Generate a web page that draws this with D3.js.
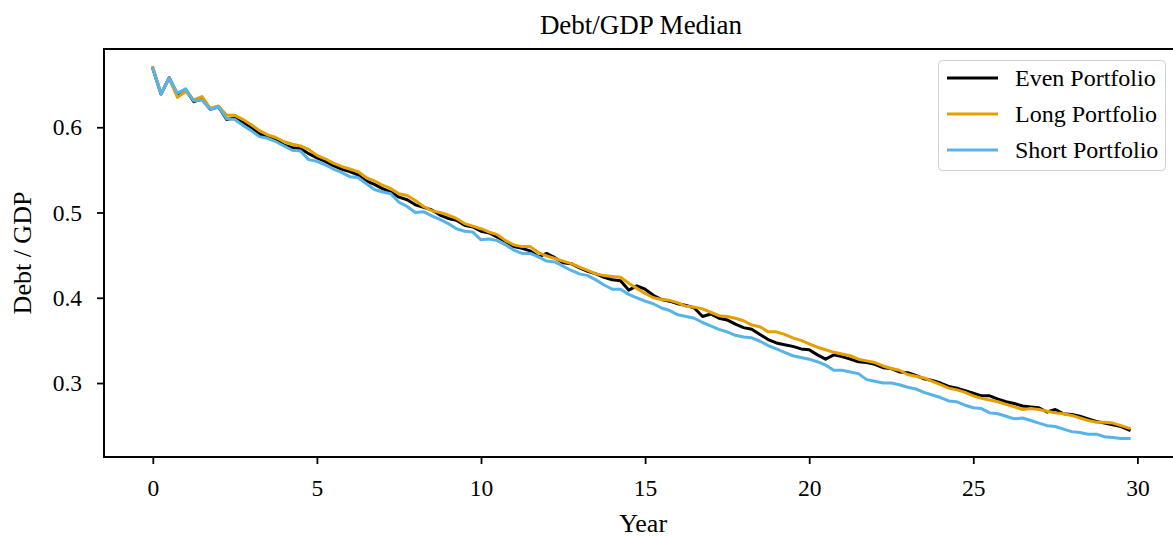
<!DOCTYPE html>
<html>
<head>
<meta charset="utf-8">
<script src="https://cdn.jsdelivr.net/npm/d3@7"></script>
<style>
  html, body { margin: 0; padding: 0; background: #fff; }
  svg { display: block; font-family: "Liberation Serif", "Times New Roman", serif; }
</style>
</head>
<body>
<svg id="chart" width="1173" height="540"></svg>
<script>
// Quarterly simulation horizon, in years
const years = d3.range(120).map(i => i * 0.25);

// Median Debt/GDP path for each issuance portfolio
const evenPortfolio = [
  0.669, 0.639, 0.658, 0.638, 0.644, 0.630, 0.633, 0.621, 0.624, 0.609, 0.611, 0.606,
  0.599, 0.592, 0.589, 0.585, 0.579, 0.576, 0.575, 0.569, 0.564, 0.560, 0.555, 0.551,
  0.548, 0.544, 0.537, 0.533, 0.528, 0.524, 0.518, 0.515, 0.509, 0.506, 0.503, 0.497,
  0.493, 0.491, 0.485, 0.483, 0.478, 0.476, 0.471, 0.466, 0.460, 0.458, 0.455, 0.448,
  0.452, 0.447, 0.441, 0.440, 0.435, 0.431, 0.428, 0.424, 0.421, 0.420, 0.409, 0.414,
  0.410, 0.403, 0.398, 0.396, 0.393, 0.391, 0.388, 0.378, 0.381, 0.376, 0.374, 0.369,
  0.365, 0.363, 0.357, 0.351, 0.347, 0.345, 0.343, 0.340, 0.339, 0.333, 0.328, 0.333,
  0.331, 0.328, 0.325, 0.324, 0.322, 0.318, 0.317, 0.313, 0.312, 0.309, 0.305, 0.303,
  0.300, 0.296, 0.294, 0.291, 0.288, 0.285, 0.285, 0.281, 0.278, 0.276, 0.273, 0.272,
  0.271, 0.266, 0.269, 0.264, 0.263, 0.261, 0.258, 0.255, 0.253, 0.251, 0.249, 0.245
];
const longPortfolio = [
  0.670, 0.640, 0.657, 0.635, 0.642, 0.632, 0.636, 0.622, 0.625, 0.614, 0.614, 0.609,
  0.603, 0.596, 0.591, 0.588, 0.583, 0.580, 0.578, 0.574, 0.567, 0.563, 0.558, 0.554,
  0.551, 0.548, 0.541, 0.537, 0.532, 0.528, 0.522, 0.520, 0.514, 0.507, 0.502, 0.500,
  0.497, 0.493, 0.487, 0.484, 0.481, 0.477, 0.474, 0.467, 0.462, 0.460, 0.460, 0.453,
  0.449, 0.446, 0.443, 0.440, 0.436, 0.432, 0.428, 0.426, 0.425, 0.424, 0.417, 0.411,
  0.405, 0.400, 0.398, 0.397, 0.394, 0.390, 0.389, 0.387, 0.383, 0.379, 0.378, 0.376,
  0.373, 0.368, 0.366, 0.360, 0.360, 0.357, 0.353, 0.350, 0.346, 0.342, 0.339, 0.336,
  0.334, 0.332, 0.328, 0.326, 0.324, 0.320, 0.317, 0.315, 0.310, 0.308, 0.306, 0.302,
  0.298, 0.294, 0.292, 0.289, 0.285, 0.282, 0.280, 0.278, 0.275, 0.272, 0.269, 0.270,
  0.269, 0.267, 0.265, 0.264, 0.262, 0.259, 0.256, 0.254, 0.254, 0.253, 0.250, 0.247
];
const shortPortfolio = [
  0.669, 0.639, 0.658, 0.640, 0.645, 0.631, 0.632, 0.621, 0.624, 0.610, 0.609, 0.602,
  0.596, 0.589, 0.587, 0.583, 0.578, 0.573, 0.572, 0.562, 0.560, 0.556, 0.551, 0.547,
  0.542, 0.541, 0.534, 0.527, 0.524, 0.522, 0.512, 0.507, 0.500, 0.501, 0.496, 0.492,
  0.487, 0.481, 0.478, 0.477, 0.468, 0.469, 0.467, 0.462, 0.456, 0.452, 0.452, 0.448,
  0.443, 0.442, 0.437, 0.432, 0.428, 0.426, 0.421, 0.415, 0.410, 0.410, 0.404, 0.400,
  0.396, 0.393, 0.388, 0.385, 0.380, 0.378, 0.376, 0.371, 0.367, 0.363, 0.360, 0.356,
  0.354, 0.353, 0.349, 0.344, 0.340, 0.336, 0.332, 0.330, 0.328, 0.325, 0.321, 0.315,
  0.315, 0.313, 0.311, 0.304, 0.302, 0.300, 0.300, 0.298, 0.295, 0.293, 0.289, 0.286,
  0.283, 0.279, 0.278, 0.274, 0.271, 0.270, 0.265, 0.264, 0.261, 0.258, 0.259, 0.256,
  0.253, 0.250, 0.249, 0.246, 0.243, 0.242, 0.240, 0.240, 0.237, 0.236, 0.235, 0.235
];

const seriesNames = ["Even Portfolio", "Long Portfolio", "Short Portfolio"];
const seriesColors = ["#000000", "#E69F00", "#56B4E9"];
const seriesValues = [evenPortfolio, longPortfolio, shortPortfolio];

const xTicks = [0, 5, 10, 15, 20, 25, 30];
const yTicks = [0.3, 0.4, 0.5, 0.6];

const titleText = "Debt/GDP Median";
const xLabel = "Year";
const yLabel = "Debt / GDP";

// ---- layout ----
const svg = d3.select("#chart");
const plot = { left: 104, right: 1178, top: 49, bottom: 457 };

// 5% padding around the data range on both axes
const xExt = d3.extent(years);
const xPad = (xExt[1] - xExt[0]) * 0.05;
const allVals = seriesValues.flat();
const yExt = d3.extent(allVals);
const yPad = (yExt[1] - yExt[0]) * 0.05;

const x = d3.scaleLinear()
  .domain([xExt[0] - xPad, xExt[1] + xPad])
  .range([plot.left, plot.right]);
const y = d3.scaleLinear()
  .domain([yExt[0] - yPad, yExt[1] + yPad])
  .range([plot.bottom, plot.top]);

// ---- lines ----
const line = d3.line()
  .x((d, i) => x(years[i]))
  .y(d => y(d));

const defs = svg.append("defs");
defs.append("clipPath").attr("id", "plotClip")
  .append("rect")
  .attr("x", plot.left).attr("y", plot.top)
  .attr("width", plot.right - plot.left).attr("height", plot.bottom - plot.top);

const linesG = svg.append("g").attr("clip-path", "url(#plotClip)");
seriesValues.forEach((vals, k) => {
  linesG.append("path")
    .datum(vals)
    .attr("fill", "none")
    .attr("stroke", seriesColors[k])
    .attr("stroke-width", 3)
    .attr("stroke-linejoin", "round")
    .attr("stroke-linecap", "square")
    .attr("d", line);
});

// ---- axes ----
const tickFont = 23.5;

const xAxis = svg.append("g")
  .attr("transform", `translate(0,${plot.bottom})`)
  .call(d3.axisBottom(x).tickValues(xTicks).tickFormat(d3.format("d")).tickSize(7).tickPadding(15));
const yAxis = svg.append("g")
  .attr("transform", `translate(${plot.left},0)`)
  .call(d3.axisLeft(y).tickValues(yTicks).tickFormat(d3.format(".1f")).tickSize(7).tickPadding(15));

[xAxis, yAxis].forEach(g => {
  g.select(".domain").remove();
  g.selectAll(".tick line").attr("stroke", "#000").attr("stroke-width", 1.8);
  g.selectAll(".tick text")
    .attr("fill", "#000")
    .style("font-family", "'Liberation Serif', 'Times New Roman', serif")
    .style("font-size", tickFont + "px");
});

// spines: left, bottom, top (right edge lies just past the canvas)
const spines = svg.append("g").attr("stroke", "#000").attr("stroke-width", 2).attr("fill", "none");
spines.append("line").attr("x1", plot.left).attr("x2", plot.left).attr("y1", plot.top).attr("y2", plot.bottom);
spines.append("line").attr("x1", plot.left - 1).attr("x2", plot.right).attr("y1", plot.bottom).attr("y2", plot.bottom);
spines.append("line").attr("x1", plot.left - 1).attr("x2", plot.right).attr("y1", plot.top).attr("y2", plot.top);
spines.append("line").attr("x1", plot.right).attr("x2", plot.right).attr("y1", plot.top).attr("y2", plot.bottom);

// ---- titles ----
svg.append("text")
  .attr("x", 641)
  .attr("y", 34)
  .attr("text-anchor", "middle")
  .style("font-size", "27px")
  .text(titleText);

svg.append("text")
  .attr("x", x(15) - 2)
  .attr("y", 532)
  .attr("text-anchor", "middle")
  .style("font-size", "26px")
  .text(xLabel);

svg.append("text")
  .attr("transform", `translate(31,${(plot.top + plot.bottom) / 2}) rotate(-90)`)
  .attr("text-anchor", "middle")
  .style("font-size", "26px")
  .text(yLabel);

// ---- legend ----
const legend = svg.append("g").attr("transform", "translate(938,60)");
legend.append("rect")
  .attr("x", 0.5).attr("y", 0.5)
  .attr("width", 227).attr("height", 110)
  .attr("rx", 4).attr("ry", 4)
  .attr("fill", "rgba(255,255,255,0.8)")
  .attr("stroke", "#d0d0d0")
  .attr("stroke-width", 1);

seriesNames.forEach((name, k) => {
  const row = legend.append("g").attr("transform", `translate(0,${18 + k * 36})`);
  row.append("line")
    .attr("x1", 9).attr("x2", 60)
    .attr("y1", 0).attr("y2", 0)
    .attr("stroke", seriesColors[k])
    .attr("stroke-width", 3);
  row.append("text")
    .attr("x", 77)
    .attr("y", 0)
    .attr("dy", "0.35em")
    .style("font-size", "24px")
    .text(name);
});
</script>
</body>
</html>
